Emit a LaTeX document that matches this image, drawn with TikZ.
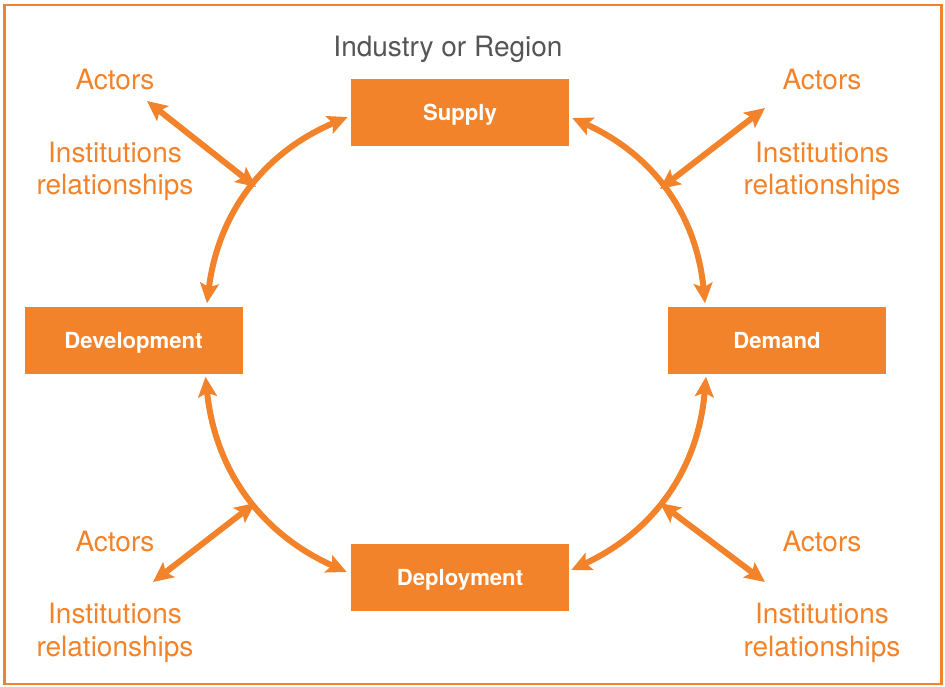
\documentclass[tikz,border=0pt]{standalone}
\usepackage{fontspec}
\setmainfont{TeX Gyre Heros}
\usetikzlibrary{arrows.meta,calc}
\definecolor{org}{HTML}{F3832A}
\definecolor{ttl}{HTML}{555555}
\begin{document}
\begin{tikzpicture}[x=0.75pt,y=-0.75pt,
  box/.style={fill=org,draw=none,minimum width=163.5pt,minimum height=50.25pt,inner sep=0pt,
    text=white,font=\fontsize{16.6}{18}\selectfont\bfseries,text height=12pt,text depth=0pt},
  lbl/.style={text=org,font=\fontsize{21}{24}\selectfont,anchor=base,inner sep=0pt},
  dbl/.style={draw=org,line width=4.5pt,
    {Stealth[length=15pt,width=14pt,inset=3pt]}-{Stealth[length=15pt,width=14pt,inset=3pt]}},
  arcs/.style={dbl}]
\useasboundingbox (0,0) rectangle (945,686);
\draw[org,line width=2pt] (4.5,5) rectangle (941.5,684);

\node[text=ttl,font=\fontsize{21}{24}\selectfont,anchor=base,inner sep=0pt] (title) at (448,56.5) {Industry or Region};

\node[box] (sup) at (460,112.5) {Supply};
\node[box] (dev) at (133.5,340) {Development};
\node[box] (dem) at (777,340) {Demand};
\node[box] (dep) at (460,577.5) {Deployment};

% labels
\node[lbl] (a1) at (115,89) {Actors};
\node[lbl] (i1) at (115,162) {Institutions};
\node[lbl] (r1) at (115,194) {relationships};
\node[lbl] (a2) at (822,89) {Actors};
\node[lbl] (i2) at (822,162) {Institutions};
\node[lbl] (r2) at (822,194) {relationships};
\node[lbl] (a3) at (115,551) {Actors};
\node[lbl] (i3) at (115,623) {Institutions};
\node[lbl] (r3) at (115,656) {relationships};
\node[lbl] (a4) at (822,551) {Actors};
\node[lbl] (i4) at (822,623) {Institutions};
\node[lbl] (r4) at (822,656) {relationships};

% arcs
\draw[arcs] ($(sup.west)+(-3,4.5)$) to[bend right=30] ($(dev.north)+(73.5,-3)$);
\draw[arcs] ($(sup.east)+(3,5.5)$) to[bend left=30] ($(dem.north)+(-72,-3)$);
\draw[arcs] ($(dev.south)+(72,3)$) to[bend right=30] ($(dep.west)+(-4,-5.5)$);
\draw[arcs] ($(dem.south)+(-71,3)$) to[bend left=30] ($(dep.east)+(2,-7.5)$);

% spokes
\coordinate (p1) at (147,101); \coordinate (q1) at (256,187);
\coordinate (p2) at (765,108); \coordinate (q2) at (660,189);
\coordinate (p3) at (153,582); \coordinate (q3) at (255,503);
\coordinate (p4) at (765,582); \coordinate (q4) at (660,503);
\draw[dbl] (p1) -- (q1);
\draw[dbl] (p2) -- (q2);
\draw[dbl] (p3) -- (q3);
\draw[dbl] (p4) -- (q4);
\end{tikzpicture}
\end{document}
